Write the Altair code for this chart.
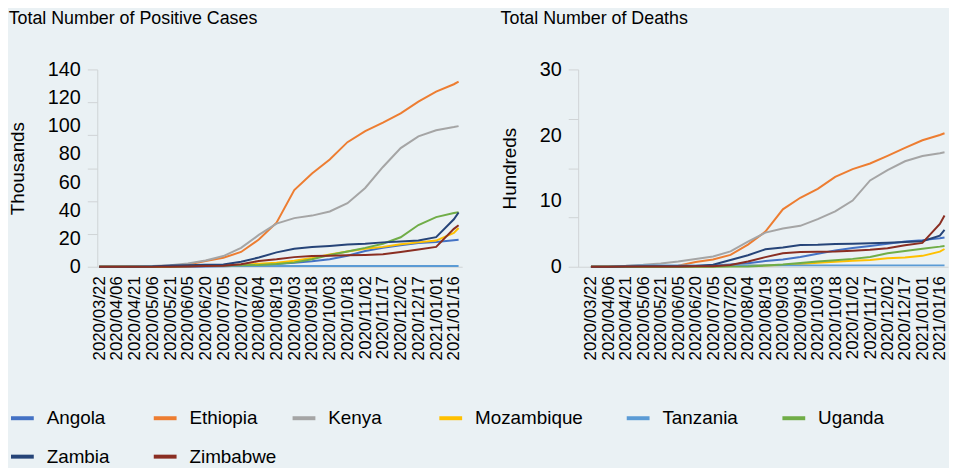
import altair as alt
import pandas as pd

dates = ["2020/03/22", "2020/04/06", "2020/04/21", "2020/05/06", "2020/05/21",
         "2020/06/05", "2020/06/20", "2020/07/05", "2020/07/20", "2020/08/04",
         "2020/08/19", "2020/09/03", "2020/09/18", "2020/10/03", "2020/10/18",
         "2020/11/02", "2020/11/17", "2020/12/02", "2020/12/17", "2021/01/01",
         "2021/01/16", "2021/01/20"]
tick_dates = dates[:-1]

countries = ["Angola", "Ethiopia", "Kenya", "Mozambique", "Tanzania", "Uganda", "Zambia", "Zimbabwe"]
colors = ["#4472C4", "#ED7D31", "#A5A5A5", "#FFC000", "#5B9BD5", "#70AD47", "#264478", "#8A2E22"]

# Total positive cases, thousands
cases_angola = [0.002, 0.014, 0.024, 0.036, 0.058, 0.086, 0.176, 0.346, 0.779, 1.28, 1.97, 2.78, 3.90, 5.40, 7.83, 11.2, 13.5, 15.3, 16.8, 17.6, 18.8, 19.1]
cases_ethiopia = [0.011, 0.043, 0.114, 0.140, 0.399, 1.64, 4.07, 6.39, 10.5, 19.3, 31.3, 54.4, 66.2, 76.1, 88.4, 96.2, 102.3, 108.9, 117.2, 124.3, 129.5, 131.3]
cases_kenya = [0.015, 0.158, 0.296, 0.582, 1.11, 2.34, 4.48, 7.58, 13.4, 22.6, 30.6, 34.5, 36.3, 39.2, 45.1, 55.9, 70.8, 84.2, 92.5, 96.8, 99.1, 99.8]
cases_mozambique = [0.001, 0.010, 0.039, 0.081, 0.168, 0.352, 0.662, 0.970, 1.51, 2.08, 2.86, 4.19, 6.15, 8.73, 10.8, 12.8, 14.1, 15.9, 17.3, 18.6, 24.0, 27.5]
cases_tanzania = [0.012, 0.024, 0.254, 0.480, 0.509, 0.509, 0.509, 0.509, 0.509, 0.509, 0.509, 0.509, 0.509, 0.509, 0.509, 0.509, 0.509, 0.509, 0.509, 0.509, 0.509, 0.509]
cases_uganda = [0.001, 0.052, 0.061, 0.098, 0.264, 0.593, 0.774, 0.927, 1.07, 1.20, 1.88, 3.11, 5.38, 8.29, 10.8, 13.4, 16.3, 20.9, 29.6, 35.2, 38.1, 38.7]
cases_zambia = [0.002, 0.039, 0.074, 0.137, 0.866, 1.09, 1.43, 1.63, 3.58, 6.58, 10.2, 12.8, 14.0, 14.8, 15.8, 16.4, 17.3, 17.9, 18.6, 21.0, 33.7, 38.5]
cases_zimbabwe = [0.003, 0.010, 0.028, 0.034, 0.051, 0.265, 0.479, 0.734, 1.82, 4.08, 5.26, 6.84, 7.61, 7.85, 8.10, 8.39, 8.83, 10.4, 12.2, 14.1, 26.9, 29.4]

# Total deaths, hundreds
deaths_angola = [0, 0.02, 0.02, 0.02, 0.03, 0.04, 0.08, 0.19, 0.35, 0.54, 0.88, 1.12, 1.49, 1.97, 2.48, 2.84, 3.14, 3.48, 3.84, 4.05, 4.34, 4.45]
deaths_ethiopia = [0, 0.01, 0.03, 0.04, 0.05, 0.17, 0.72, 1.10, 1.80, 3.36, 5.34, 8.73, 10.49, 11.85, 13.67, 14.84, 15.70, 16.86, 18.08, 19.23, 20.04, 20.30]
deaths_kenya = [0, 0.06, 0.14, 0.29, 0.50, 0.79, 1.17, 1.55, 2.34, 3.82, 5.19, 5.81, 6.22, 7.25, 8.42, 10.06, 13.13, 14.69, 16.04, 16.85, 17.27, 17.40]
deaths_mozambique = [0, 0, 0, 0, 0.01, 0.02, 0.04, 0.08, 0.11, 0.15, 0.19, 0.26, 0.40, 0.62, 0.75, 0.91, 1.02, 1.31, 1.42, 1.66, 2.30, 2.70]
deaths_tanzania = [0, 0, 0.10, 0.18, 0.21, 0.21, 0.21, 0.21, 0.21, 0.21, 0.21, 0.21, 0.21, 0.21, 0.21, 0.21, 0.21, 0.21, 0.21, 0.21, 0.21, 0.21]
deaths_uganda = [0, 0, 0, 0, 0, 0, 0, 0, 0.02, 0.05, 0.18, 0.34, 0.57, 0.80, 0.98, 1.20, 1.49, 2.06, 2.39, 2.75, 3.06, 3.16]
deaths_zambia = [0, 0, 0.03, 0.07, 0.07, 0.07, 0.11, 0.30, 1.02, 1.75, 2.65, 2.92, 3.30, 3.34, 3.45, 3.49, 3.57, 3.64, 3.75, 3.88, 4.74, 5.60]
deaths_zimbabwe = [0, 0.01, 0.04, 0.04, 0.04, 0.04, 0.06, 0.09, 0.26, 0.80, 1.46, 2.06, 2.24, 2.28, 2.31, 2.43, 2.57, 2.81, 3.26, 3.63, 6.50, 7.80]

cases_lists = [cases_angola, cases_ethiopia, cases_kenya, cases_mozambique,
               cases_tanzania, cases_uganda, cases_zambia, cases_zimbabwe]
deaths_lists = [deaths_angola, deaths_ethiopia, deaths_kenya, deaths_mozambique,
                deaths_tanzania, deaths_uganda, deaths_zambia, deaths_zimbabwe]

case_ticks = [0, 20, 40, 60, 80, 100, 120, 140]
case_marks = [0, 140 / 6, 280 / 6, 70, 560 / 6, 700 / 6, 140]
death_ticks = [0, 10, 20, 30]
death_marks = [0, 7.5, 15, 22.5, 30]

rows = []
for c, cl, dl in zip(countries, cases_lists, deaths_lists):
    for d, cv, dv in zip(dates, cl, dl):
        rows.append({"date": d, "country": c, "cases": cv, "deaths": dv})
df = pd.DataFrame(rows)

FONT = "Liberation Sans"
AXIS_GREY = "#cfd3d6"

# legend label padding (invisible blank glyphs) so that columns get Excel-like spacing
BLANK = chr(0x2800)
pads = {"Zambia": 2, "Kenya": 3, "Mozambique": 2, "Tanzania": 2}
label_expr = ""
for name, n in pads.items():
    label_expr += f"datum.label == '{name}' ? '{name}{BLANK * n}' : "
label_expr += "datum.label"

legend = alt.Legend(
    title=None, orient="none", legendX=-89, legendY=338, direction="horizontal",
    columns=6, symbolType="stroke", symbolStrokeWidth=4, symbolSize=529,
    labelFontSize=19, labelOffset=11, columnPadding=8, rowPadding=15,
    labelExpr=label_expr, labelColor="#000", labelFont=FONT, labelLimit=400,
)

color = alt.Color("country:N", scale=alt.Scale(domain=countries, range=colors), legend=legend)


def date_axis():
    return alt.Axis(
        values=[alt.DateTime(year=int(d[:4]), month=int(d[5:7]), date=int(d[8:])) for d in tick_dates],
        format="%Y/%m/%d", labelAngle=270, title=None, labelFontSize=17,
        ticks=False, labelPadding=9, domainColor=AXIS_GREY, labelColor="#000",
        grid=False, labelOverlap=False,
    )


def panel(field, title, ytitle, ymax, ticks, marks, start, width):
    x = alt.X("date:T", scale=alt.Scale(domain=[start, alt.DateTime(year=2021, month=1, date=23)]),
              axis=date_axis())
    lines = alt.Chart(df).mark_line(strokeWidth=2).encode(
        x=x,
        y=alt.Y(f"{field}:Q", scale=alt.Scale(domain=[0, ymax], nice=False),
                axis=alt.Axis(values=ticks, ticks=False, domain=False, grid=False,
                              labelFontSize=20, labelPadding=17, labelColor="#000",
                              title=ytitle, titleFontSize=19, titleFontWeight="normal",
                              titleColor="#000", titlePadding=20)),
        color=color,
    )
    tickmarks = alt.Chart(df).mark_point(opacity=0, size=0).encode(
        x=x,
        y=alt.Y(f"{field}:Q", scale=alt.Scale(domain=[0, ymax], nice=False),
                axis=alt.Axis(values=marks, labels=False, ticks=True, tickSize=10,
                              tickColor=AXIS_GREY, domain=True, domainColor=AXIS_GREY,
                              grid=False, title=None, orient="left")),
    )
    return alt.layer(lines, tickmarks).resolve_axis(y="independent").properties(
        width=width, height=199,
        title=alt.TitleParams(title, anchor="start", frame="bounds", fontSize=18,
                              fontWeight="normal", color="#000", offset=32, font=FONT),
    )


left = panel("cases", "Total Number of Positive Cases", "Thousands", 140, case_ticks, case_marks,
             alt.DateTime(year=2020, month=3, date=20, hours=8), 368)
right = panel("deaths", "Total Number of Deaths", "Hundreds", 30, death_ticks, death_marks,
              alt.DateTime(year=2020, month=3, date=11), 373)

chart = alt.hconcat(left, right, spacing=37).properties(
    background="#eaf1f4", padding={"left": 0, "top": 0, "right": 0, "bottom": 0}
).configure(font=FONT).configure_view(stroke=None)

chart.save("out.html", embed_options={"renderer": "svg", "actions": False})
